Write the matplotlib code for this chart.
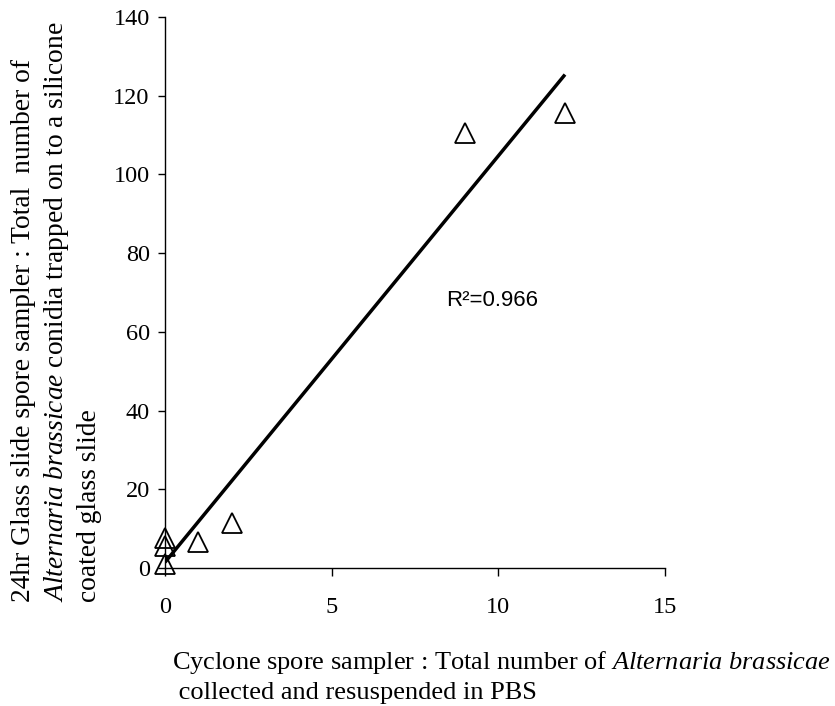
import numpy as np
import matplotlib
matplotlib.use("Agg")
import matplotlib.pyplot as plt

# Paired spore counts per sampling period
cyclone_counts = [0, 0, 0, 1, 2, 9, 12]
slide_counts = [7.5, 5.5, 1, 6.5, 11.5, 110.5, 115.5]
r_squared_label = "R²=0.966"

x_ticks = [0, 5, 10, 15]
y_ticks = [0, 20, 40, 60, 80, 100, 120, 140]

plt.rcParams["font.family"] = ["Liberation Serif", "DejaVu Serif"]
plt.rcParams["mathtext.fontset"] = "custom"
plt.rcParams["mathtext.rm"] = "Liberation Serif"
plt.rcParams["mathtext.it"] = "Liberation Serif:italic"

fig = plt.figure(figsize=(8.35, 7.06), dpi=100)
ax = fig.add_axes([165 / 835, 1 - 568 / 706, 500 / 835, 551 / 706])

# Least-squares trend line across the observed range
slope, intercept = np.polyfit(cyclone_counts, slide_counts, 1)
xs = np.array([min(cyclone_counts), max(cyclone_counts)])
ax.plot(xs, slope * xs + intercept, color="black", lw=2.5, solid_capstyle="butt", zorder=2)

ax.plot(cyclone_counts, slide_counts, linestyle="none", marker="^", markersize=14,
        markerfacecolor="none", markeredgecolor="black", markeredgewidth=1.3,
        clip_on=False, zorder=3)

ax.set_xlim(0, 15)
ax.set_ylim(0, 140)
ax.set_xticks(x_ticks)
ax.set_yticks(y_ticks)
ax.spines["top"].set_visible(False)
ax.spines["right"].set_visible(False)
for s in ("left", "bottom"):
    ax.spines[s].set_linewidth(1.0)
ax.tick_params(axis="x", direction="out", length=6, width=1.0, pad=15, labelsize=17.5)
ax.tick_params(axis="y", direction="out", length=5, width=1.0, pad=6, labelsize=17.5)

ax.text(9.8, 68, r_squared_label, family="Liberation Sans", fontsize=16,
        ha="center", va="center")

# Axis titles
fig.text(172 / 835, 1 - 663 / 706,
         r"Cyclone spore sampler : Total number of $\mathit{Alternaria\ brassicae}$",
         fontsize=19, ha="left", va="center")
fig.text(172 / 835, 1 - 693 / 706, " collected and resuspended in PBS",
         fontsize=19, ha="left", va="center")

y_lines = [
    "24hr Glass slide spore sampler : Total  number of",
    r"$\mathit{Alternaria\ brassicae}$ conidia trapped on to a silicone",
    "coated glass slide",
]
for i, line in enumerate(y_lines):
    fig.text((24 + 33 * i) / 835, 1 - 602 / 706, line, fontsize=19.8,
             rotation=90, ha="center", va="bottom")

fig.savefig("out.png", dpi=100)
